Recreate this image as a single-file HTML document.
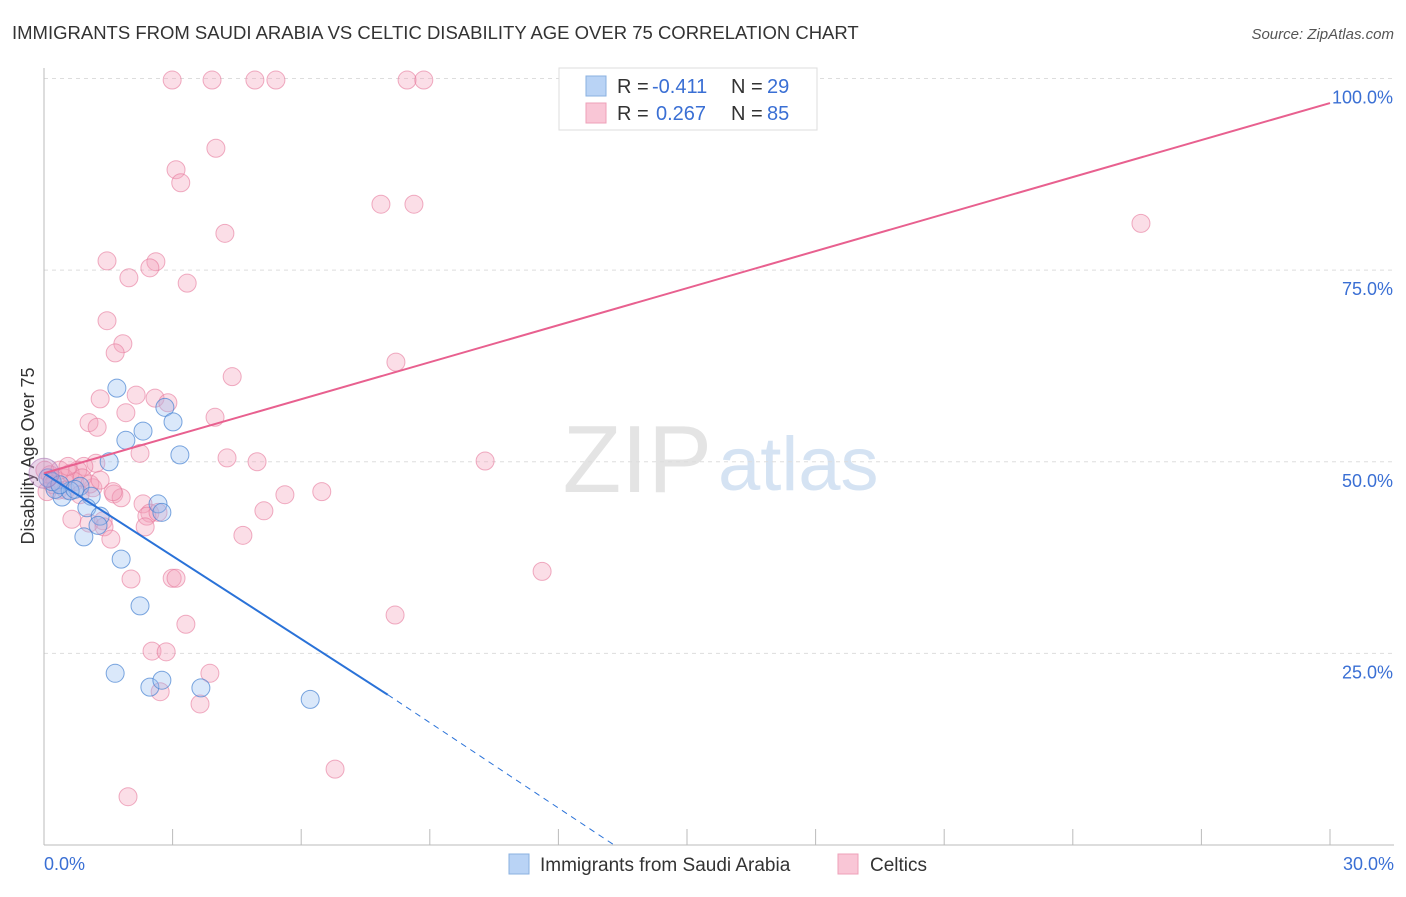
<!DOCTYPE html>
<html><head><meta charset="utf-8"><style>
body{margin:0;background:#fff;font-family:"Liberation Sans",sans-serif;}
svg text{font-family:"Liberation Sans",sans-serif;}
</style></head><body>
<svg id="chart" width="1406" height="892" xmlns="http://www.w3.org/2000/svg">
<text x="12" y="39" font-size="18.5" fill="#333">IMMIGRANTS FROM SAUDI ARABIA VS CELTIC DISABILITY AGE OVER 75 CORRELATION CHART</text>
<text x="1394" y="39" font-size="15" fill="#555" font-style="italic" text-anchor="end">Source: ZipAtlas.com</text>
<text x="712" y="492" font-size="96" fill="#e4e4e4" font-family="Liberation Serif" text-anchor="end">ZIP</text>
<text x="718" y="490" font-size="76" fill="#d5e3f3">atlas</text>
<text transform="translate(34,456) rotate(-90)" font-size="18" fill="#333" text-anchor="middle">Disability Age Over 75</text>
<g id="grid"></g><g id="ticks"></g><g id="pts"></g><g id="trend"></g>
<g>
<rect x="559" y="68" width="258" height="62" fill="#fff" stroke="#ddd"/>
<rect x="586" y="76" width="20" height="20" fill="#b9d3f5" stroke="#8ab0e0"/>
<rect x="586" y="103" width="20" height="20" fill="#f9c6d6" stroke="#eea0b8"/>
<text x="617" y="93" font-size="20" fill="#333">R =</text>
<text x="652" y="93" font-size="20" fill="#3a6fd4">-0.411</text>
<text x="731" y="93" font-size="20" fill="#333">N =</text>
<text x="767" y="93" font-size="20" fill="#3a6fd4">29</text>
<text x="617" y="120" font-size="20" fill="#333">R =</text>
<text x="656" y="120" font-size="20" fill="#3a6fd4">0.267</text>
<text x="731" y="120" font-size="20" fill="#333">N =</text>
<text x="767" y="120" font-size="20" fill="#3a6fd4">85</text>
</g>
<g>
<rect x="509" y="854" width="20" height="20" fill="#b9d3f5" stroke="#8ab0e0"/>
<text x="540" y="871" font-size="19" fill="#333">Immigrants from Saudi Arabia</text>
<rect x="838" y="854" width="20" height="20" fill="#f9c6d6" stroke="#eea0b8"/>
<text x="870" y="871" font-size="19" fill="#333">Celtics</text>
</g>
</svg>
<script>
const blueX=[1.70,1.91,2.31,2.82,3.01,3.17,1.52,0.84,1.10,0.42,0.26,0.61,1.00,1.31,1.26,0.93,1.80,2.24,2.66,2.75,1.66,2.47,2.75,3.66,6.21,0.09,0.19,0.37,0.72];
const blueY=[59.6,52.8,54.0,57.1,55.2,50.9,50.0,46.8,45.5,45.4,46.4,46.2,44.0,42.9,41.7,40.2,37.3,31.2,44.5,43.4,22.4,20.6,21.5,20.5,19.0,47.9,47.4,47.0,46.4];
const pinkX=[2.99,3.92,4.92,5.41,8.47,8.86,4.01,3.08,3.19,7.86,8.63,4.22,25.59,1.47,2.61,2.47,1.98,3.34,1.47,1.84,1.66,8.21,4.39,2.15,1.31,2.59,2.89,1.91,3.99,1.05,1.24,2.24,4.27,4.97,10.29,1.21,0.93,0.79,0.61,0.47,1.14,1.63,1.80,2.31,1.61,5.62,6.48,5.13,2.47,2.40,2.66,0.65,1.05,1.38,1.40,2.36,4.64,1.56,11.62,2.03,2.99,3.08,8.19,3.31,2.52,2.85,3.87,2.71,3.64,6.79,1.96,0.02,0.14,0.26,0.33,0.07,0.51,0.72,0.89,1.07,0.37,0.56,1.31,0.84,0.21];
const pinkY=[99.8,99.8,99.8,99.8,99.8,99.8,90.9,88.1,86.4,83.6,83.6,79.8,81.1,76.2,76.1,75.3,74.0,73.3,68.4,65.4,64.2,63.0,61.1,58.7,58.2,58.3,57.7,56.4,55.8,55.1,54.5,51.1,50.5,50.0,50.1,49.8,49.4,48.9,48.5,47.9,46.6,45.8,45.3,44.5,46.1,45.7,46.1,43.6,43.3,42.9,43.4,42.5,42.0,42.3,41.5,41.5,40.4,39.9,35.7,34.7,34.8,34.8,30.0,28.8,25.3,25.2,22.4,20.0,18.4,9.9,6.3,48.9,48.3,47.6,46.3,46.1,46.3,47.4,47.9,47.1,48.9,49.4,47.6,45.7,47.0];
const yTicks=[25,50,75,100];
const yTickLabels=["25.0%","50.0%","75.0%","100.0%"];
const xTicks=[3,6,9,12,15,18,21,24,27,30];
const blueTrend=[[0,48.5],[8.02,19.6],[13.3,0]];
const pinkTrend=[[0,48.5],[30,96.8]];
const NS="http://www.w3.org/2000/svg";
const X=v=>44+v/30*1286, Y=v=>845-v*7.665;
function mk(tag,attrs,parent){const e=document.createElementNS(NS,tag);for(const k in attrs)e.setAttribute(k,attrs[k]);document.getElementById(parent).appendChild(e);return e;}
yTicks.forEach((t,i)=>{
 const l=mk('line',{x1:44,x2:1394,y1:Y(t),y2:Y(t),stroke:'#ddd','stroke-dasharray':'4,4'},'grid');
 
 
 const tx=mk('text',{x:1393,y:Y(t)+25,'font-size':18,fill:'#3a6fd4','text-anchor':'end'},'grid');
 tx.textContent=yTickLabels[i];
 
 
});
const ax=mk('line',{x1:44,x2:44,y1:68,y2:845,stroke:'#bbb'},'ticks');


const bx=mk('line',{x1:44,x2:1394,y1:845,y2:845,stroke:'#bbb'},'ticks');


xTicks.forEach(t=>{
 const l=mk('line',{x1:X(t),x2:X(t),y1:829,y2:845,stroke:'#bbb'},'ticks');
 
 
});
const x0=mk('text',{x:44,y:870,'font-size':18,fill:'#3a6fd4'},'ticks');x0.textContent='0.0%';


const x1=mk('text',{x:1394,y:870,'font-size':18,fill:'#3a6fd4','text-anchor':'end'},'ticks');x1.textContent='30.0%';


pinkX.forEach((v,i)=>{
 const c=mk('circle',{cx:X(v),cy:Y(pinkY[i]),r:9,fill:'rgba(244,160,186,0.35)',stroke:'rgba(230,120,155,0.6)','stroke-width':1},'pts');
 
 
});
blueX.forEach((v,i)=>{
 const c=mk('circle',{cx:X(v),cy:Y(blueY[i]),r:9,fill:'rgba(150,190,240,0.35)',stroke:'rgba(70,130,210,0.7)','stroke-width':1},'pts');
 
 
});
const big=mk('circle',{cx:X(0),cy:Y(48.5),r:15,fill:'rgba(200,150,200,0.4)',stroke:'rgba(170,120,180,0.6)'},'pts');


const bs=mk('line',{x1:X(blueTrend[0][0]),y1:Y(blueTrend[0][1]),x2:X(blueTrend[1][0]),y2:Y(blueTrend[1][1]),stroke:'#2a72d8','stroke-width':2},'trend');


const bd=mk('line',{x1:X(blueTrend[1][0]),y1:Y(blueTrend[1][1]),x2:X(blueTrend[2][0]),y2:Y(blueTrend[2][1]),stroke:'#2a72d8','stroke-width':1,'stroke-dasharray':'6,5'},'trend');


const ps=mk('line',{x1:X(pinkTrend[0][0]),y1:Y(pinkTrend[0][1]),x2:X(pinkTrend[1][0]),y2:Y(pinkTrend[1][1]),stroke:'#e8608f','stroke-width':2},'trend');


</script>
</body></html>
